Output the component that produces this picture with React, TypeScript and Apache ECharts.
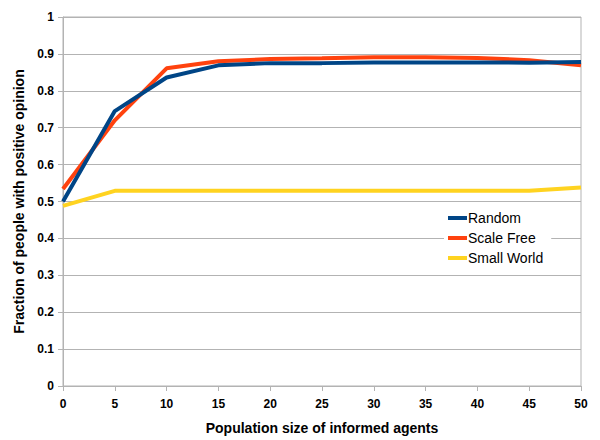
import React, { useEffect, useRef } from "react";
import * as echarts from "echarts";

const xValues = [0, 5, 10, 15, 20, 25, 30, 35, 40, 45, 50];
const randomValues = [0.5, 0.745, 0.836, 0.869, 0.875, 0.875, 0.877, 0.877, 0.877, 0.876, 0.878];
const scaleFreeValues = [0.534, 0.72, 0.861, 0.88, 0.886, 0.888, 0.891, 0.891, 0.889, 0.883, 0.869];
const smallWorldValues = [0.488, 0.529, 0.529, 0.529, 0.529, 0.529, 0.529, 0.529, 0.529, 0.529, 0.538];
const seriesNames = ["Random", "Scale Free", "Small World"];
const seriesColors = ["#004586", "#ff420e", "#ffd320"];

const toPairs = (ys: number[]) => xValues.map((x, i) => [x, ys[i]]);

export default function App() {
  const ref = useRef<HTMLDivElement>(null);
  useEffect(() => {
    if (!ref.current) return;
    const chart = echarts.init(ref.current, null, { renderer: "svg" });
    const font = "'Liberation Sans', Arial, sans-serif";
    const gray = "#b3b3b3";
    const allValues = [randomValues, scaleFreeValues, smallWorldValues];
    chart.setOption({
      animation: false,
      backgroundColor: "#ffffff",
      grid: {
        left: 63,
        top: 17,
        right: 19,
        bottom: 51,
        show: true,
        borderColor: gray,
        borderWidth: 1,
        backgroundColor: "transparent",
      },
      legend: {
        orient: "vertical",
        left: 444,
        top: 209,
        icon: "rect",
        itemWidth: 19,
        itemHeight: 4,
        itemGap: 6,
        padding: [2, 8, 2, 4],
        backgroundColor: "#ffffff",
        textStyle: {
          fontFamily: font,
          fontSize: 14,
          lineHeight: 14,
          color: "#000",
          padding: [0, 0, 0, -4],
        },
        data: seriesNames,
      },
      xAxis: {
        type: "value",
        min: 0,
        max: 50,
        interval: 5,
        name: "Population size of informed agents",
        nameLocation: "middle",
        nameGap: 35,
        nameTextStyle: { fontFamily: font, fontSize: 14, fontWeight: "bold", color: "#000" },
        axisLine: { show: true, lineStyle: { color: gray, width: 1 } },
        axisTick: { show: true, length: 5, lineStyle: { color: gray } },
        axisLabel: { fontFamily: font, fontSize: 12, fontWeight: "bold", color: "#000", margin: 12 },
        splitLine: { show: false },
      },
      yAxis: {
        type: "value",
        min: 0,
        max: 1,
        interval: 0.1,
        name: "Fraction of people with positive opinion",
        nameLocation: "middle",
        nameGap: 36,
        nameTextStyle: { fontFamily: font, fontSize: 14, fontWeight: "bold", color: "#000" },
        axisLine: { show: true, lineStyle: { color: gray, width: 1 } },
        axisTick: { show: true, length: 5, lineStyle: { color: gray } },
        axisLabel: { fontFamily: font, fontSize: 12, fontWeight: "bold", color: "#000", margin: 9 },
        splitLine: { show: true, lineStyle: { color: gray, width: 1 } },
      },
      series: seriesNames.map((name, i) => ({
        name,
        type: "line",
        data: toPairs(allValues[i]),
        showSymbol: false,
        symbol: "none",
        lineStyle: { color: seriesColors[i], width: 4 },
        itemStyle: { color: seriesColors[i] },
        z: 3 - i,
      })),
    });
    return () => chart.dispose();
  }, []);
  return (
    <div
      ref={ref}
      style={{ position: "fixed", left: 0, top: 0, width: 600, height: 440, background: "#fff" }}
    />
  );
}
